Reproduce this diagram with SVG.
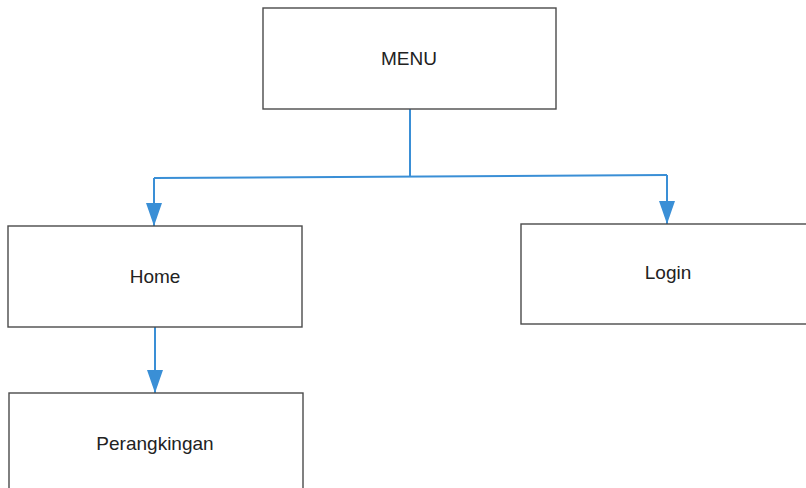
<svg xmlns="http://www.w3.org/2000/svg" width="806" height="488" viewBox="0 0 806 488">
<style>
.box{fill:#fff;stroke:#4a4a4a;stroke-width:1.4}
.lbl{font-family:"Liberation Sans",Arial,sans-serif;font-size:19px;fill:#222;text-anchor:middle;dominant-baseline:central}
.con{fill:none;stroke:#3a8fd6;stroke-width:2}
</style>
<defs>
<marker id="ah" viewBox="0 0 23 16" refX="23" refY="8" markerWidth="23" markerHeight="16" markerUnits="userSpaceOnUse" orient="auto">
<path d="M0,0 L23,8 L0,16 Z" fill="#3a8fd6"/>
</marker>
</defs>
<rect width="806" height="488" fill="#fff"/>
<g id="connectors">
<path class="con" d="M410,109 V177"/>
<path class="con" d="M154,178 L667,175"/>
<path class="con" d="M154,178 V226" marker-end="url(#ah)"/>
<path class="con" d="M667,175 V224" marker-end="url(#ah)"/>
<path class="con" d="M155,327 V393" marker-end="url(#ah)"/>
</g>
<g id="menu">
<rect class="box" x="263" y="8" width="293" height="101"/>
<text class="lbl" x="409" y="58">MENU</text>
</g>
<g id="home">
<rect class="box" x="8" y="226" width="294" height="101"/>
<text class="lbl" x="155" y="276">Home</text>
</g>
<g id="login">
<rect class="box" x="521" y="224" width="300" height="100"/>
<text class="lbl" x="668" y="272">Login</text>
</g>
<g id="perangkingan">
<rect class="box" x="9" y="393" width="294" height="110"/>
<text class="lbl" x="155" y="443">Perangkingan</text>
</g>
</svg>
